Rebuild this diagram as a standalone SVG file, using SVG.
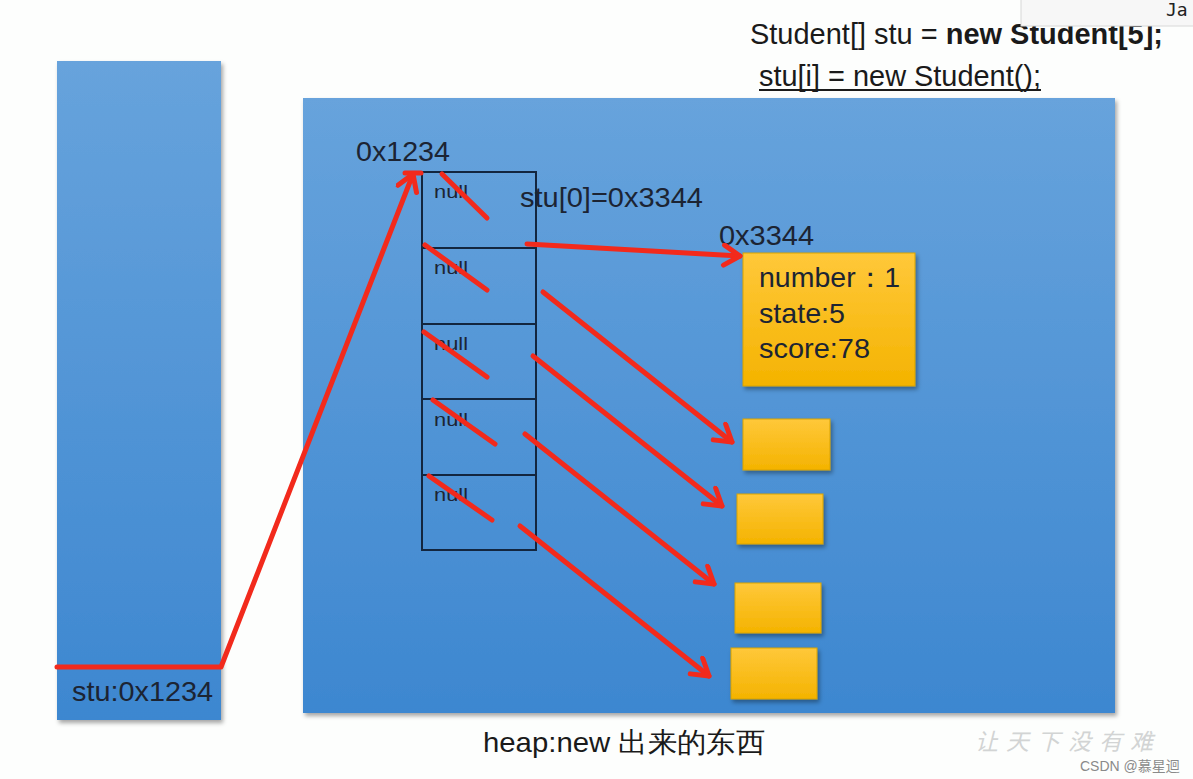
<svg xmlns="http://www.w3.org/2000/svg" width="1193" height="779" viewBox="0 0 1193 779">
<defs>
<linearGradient id="blueV" x1="0" y1="0" x2="0" y2="1">
<stop offset="0" stop-color="#67a3dc"/>
<stop offset="1" stop-color="#3d87d0"/>
</linearGradient>
<linearGradient id="yel" x1="0" y1="0" x2="0" y2="1">
<stop offset="0" stop-color="#ffc83a"/>
<stop offset="1" stop-color="#f4b300"/>
</linearGradient>
<filter id="sh" x="-10%" y="-10%" width="130%" height="130%">
<feDropShadow dx="2" dy="3" stdDeviation="2" flood-color="#000" flood-opacity="0.35"/>
</filter>
<marker id="arr" markerUnits="userSpaceOnUse" markerWidth="30" markerHeight="30" refX="22" refY="12" orient="auto">
<path d="M6,2 L22,12 L6,22" fill="none" stroke="#f22a1c" stroke-width="5" stroke-linecap="round" stroke-linejoin="round"/>
</marker>
<clipPath id="clipR"><rect x="0" y="0" width="1160" height="779"/></clipPath>
</defs>
<style>
.t{font-family:"Liberation Sans",Arial,sans-serif;fill:#1c2433;font-size:28px}
.tk{font-family:"Liberation Sans",Arial,sans-serif;fill:#1a1a1a;font-size:29px}
.nl{font-family:"Liberation Sans",Arial,sans-serif;fill:#1c2433;font-size:19px}
.red{fill:none;stroke:#f22a1c;stroke-width:5;stroke-linecap:round;stroke-linejoin:round}
.cell{fill:none;stroke:#13263f;stroke-width:2}
.yb{fill:url(#yel);stroke:#d9a300;stroke-width:1;filter:url(#sh)}
</style>
<rect width="1193" height="779" fill="#fdfefd"/>

<g id="stack">
<rect x="57" y="61" width="164" height="659" fill="url(#blueV)" filter="url(#sh)"/>
<text class="t" x="72" y="701" textLength="141" lengthAdjust="spacingAndGlyphs">stu:0x1234</text>
</g>

<g id="heap">
<rect x="303" y="98" width="812" height="615" fill="url(#blueV)" filter="url(#sh)"/>
<text class="t" x="483" y="752" style="fill:#1a1a1a" textLength="282" lengthAdjust="spacingAndGlyphs">heap:new 出来的东西</text>
</g>

<g id="code">
<text class="tk" x="750" y="44" textLength="413" lengthAdjust="spacingAndGlyphs">Student[] stu = <tspan font-weight="bold">new Student[5];</tspan></text>
<text class="tk" x="759" y="86" textLength="282" lengthAdjust="spacingAndGlyphs">stu[i] = new Student();</text>
<line x1="759" y1="90" x2="1041" y2="90" stroke="#1a1a1a" stroke-width="2"/>
</g>

<g id="popup">
<rect x="1021" y="-2" width="180" height="28" fill="#f7f7f7" stroke="#d8d8d8" stroke-width="1"/>
<text x="1166" y="16" style="font-family:'DejaVu Sans Mono',monospace;font-size:18px;fill:#222">Ja</text>
</g>

<g id="array">
<text class="t" x="356" y="161" textLength="94" lengthAdjust="spacingAndGlyphs">0x1234</text>
<rect class="cell" x="422" y="172" width="114" height="378"/>
<line class="cell" x1="422" y1="248" x2="536" y2="248"/>
<line class="cell" x1="422" y1="324" x2="536" y2="324"/>
<line class="cell" x1="422" y1="399" x2="536" y2="399"/>
<line class="cell" x1="422" y1="475" x2="536" y2="475"/>
<text class="nl" x="434" y="198" textLength="34" lengthAdjust="spacingAndGlyphs">null</text>
<text class="nl" x="434" y="274" textLength="34" lengthAdjust="spacingAndGlyphs">null</text>
<text class="nl" x="434" y="350" textLength="34" lengthAdjust="spacingAndGlyphs">null</text>
<text class="nl" x="434" y="426" textLength="34" lengthAdjust="spacingAndGlyphs">null</text>
<text class="nl" x="434" y="501" textLength="34" lengthAdjust="spacingAndGlyphs">null</text>
<text class="t" x="520" y="207" textLength="183" lengthAdjust="spacingAndGlyphs">stu[0]=0x3344</text>
</g>

<g id="student0">
<text class="t" x="719" y="245" textLength="95" lengthAdjust="spacingAndGlyphs">0x3344</text>
<rect class="yb" x="743" y="253" width="172" height="133"/>
<text class="t" x="759" y="287" textLength="141" lengthAdjust="spacingAndGlyphs">number：1</text>
<text class="t" x="759" y="323" textLength="86" lengthAdjust="spacingAndGlyphs">state:5</text>
<text class="t" x="759" y="358" textLength="111" lengthAdjust="spacingAndGlyphs">score:78</text>
</g>

<g id="student1"><rect class="yb" x="743" y="419" width="87" height="51"/></g>
<g id="student2"><rect class="yb" x="737" y="494" width="86" height="50"/></g>
<g id="student3"><rect class="yb" x="735" y="583" width="86" height="50"/></g>
<g id="student4"><rect class="yb" x="731" y="648" width="86" height="51"/></g>

<g id="connectors">
<polyline class="red" points="57,667 221,667 413,174" marker-end="url(#arr)"/>
<line class="red" x1="405" y1="173" x2="421" y2="173"/>
<line class="red" x1="442" y1="174" x2="487" y2="218"/>
<line class="red" x1="425" y1="245" x2="487" y2="290"/>
<line class="red" x1="424" y1="332" x2="487" y2="377"/>
<line class="red" x1="433" y1="400" x2="495" y2="444"/>
<line class="red" x1="429" y1="476" x2="492" y2="520"/>
<line class="red" x1="527" y1="244" x2="740" y2="256" marker-end="url(#arr)"/>
<line class="red" x1="543" y1="292" x2="732" y2="442" marker-end="url(#arr)"/>
<line class="red" x1="533" y1="356" x2="722" y2="506" marker-end="url(#arr)"/>
<line class="red" x1="525" y1="434" x2="714" y2="584" marker-end="url(#arr)"/>
<line class="red" x1="520" y1="526" x2="709" y2="676" marker-end="url(#arr)"/>
</g>

<g id="watermark">
<text x="975" y="750" clip-path="url(#clipR)" style="font-family:'Noto Sans CJK SC',sans-serif;font-size:23px;font-style:italic;fill:#d2d4d4;letter-spacing:8px">让天下没有难</text>
<text x="1080" y="771" style="font-family:'Liberation Sans','Noto Sans CJK SC',sans-serif;font-size:14px;fill:#8a8a8a">CSDN @慕星迴</text>
</g>
</svg>
